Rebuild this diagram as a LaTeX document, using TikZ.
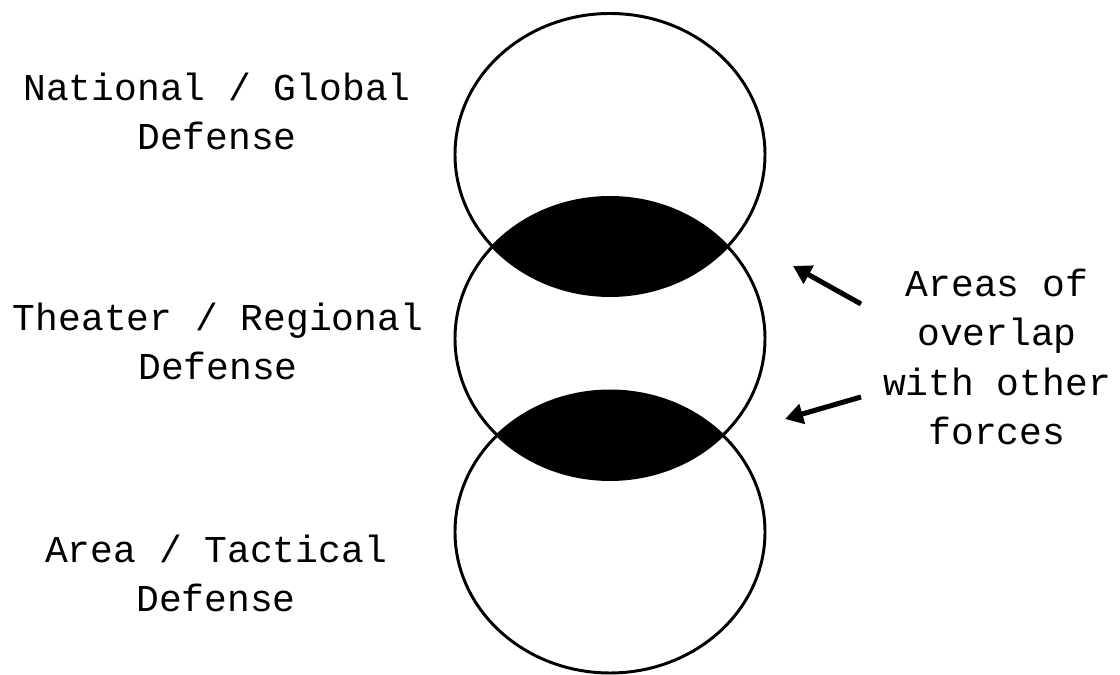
\documentclass[tikz,border=0pt]{standalone}
\usepackage{fontspec}
\setmonofont{Liberation Mono}
\usepackage{tikz}
\usetikzlibrary{arrows.meta}
\tikzset{
  lvl/.style = {draw=black, line width=2.1pt},
  lens/.style = {fill=black},
  lbl/.style = {align=center, inner sep=0pt, anchor=base, font=\ttfamily\fontsize{27}{35.25}\selectfont},
  pointer/.style = {line width=3.6pt, -{Triangle[length=0.45cm, width=0.5cm]}},
}
\begin{document}
\begin{tikzpicture}[x=0.025cm, y=0.025cm]
\useasboundingbox (0,0) rectangle (1120,675);
\coordinate (top) at (610,520.5);
\coordinate (mid) at (610,336.5);
\coordinate (bot) at (610,143);
% overlaps
\begin{scope}
  \clip (top) ellipse [x radius=155, y radius=141];
  \fill [lens] (mid) ellipse [x radius=155, y radius=141];
\end{scope}
\begin{scope}
  \clip (mid) ellipse [x radius=155, y radius=141];
  \fill [lens] (bot) ellipse [x radius=155, y radius=141];
\end{scope}
\draw [lvl] (top) ellipse [x radius=155, y radius=141];
\draw [lvl] (mid) ellipse [x radius=155, y radius=141];
\draw [lvl] (bot) ellipse [x radius=155, y radius=141];
\node [lbl] (national) at (217,525) {National / Global\\Defense};
\node [lbl] (theater) at (218,295) {Theater / Regional\\Defense};
\node [lbl] (area) at (216,63) {Area / Tactical\\Defense};
\node [lbl] (overlap) at (997,230) {Areas of\\overlap\\with other\\forces};
\coordinate (tail1) at (861,371);
\coordinate (tip1) at (793,409);
\coordinate (tail2) at (861,278);
\coordinate (tip2) at (785,256);
\draw [pointer] (tail1) -- (tip1);
\draw [pointer] (tail2) -- (tip2);
\end{tikzpicture}
\end{document}
